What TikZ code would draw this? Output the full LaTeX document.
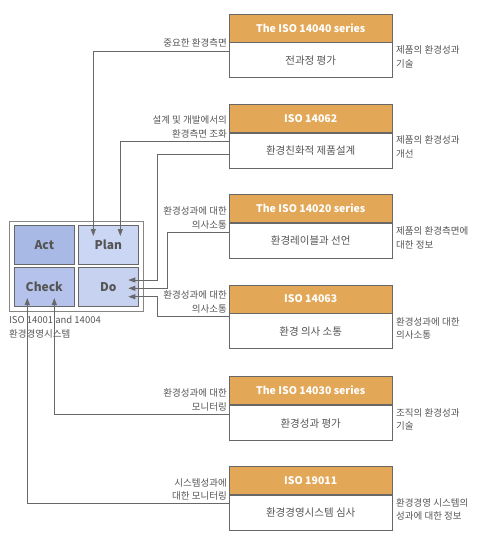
\documentclass[tikz,border=0pt]{standalone}
\usepackage{fontspec}
\setmainfont{Noto Sans CJK KR}
\usetikzlibrary{arrows.meta}
\definecolor{hdr}{HTML}{E3A758}
\definecolor{bord}{HTML}{686868}
\definecolor{txt}{HTML}{555555}
\definecolor{actc}{HTML}{A9B9E6}
\definecolor{planc}{HTML}{CBD6F4}
\definecolor{checkc}{HTML}{B5C3EC}
\definecolor{doc}{HTML}{C7D2F1}
\tikzset{
  hbox/.style={draw=bord, line width=0.9pt, fill=hdr, text=white, font=\fontsize{10.5}{12}\selectfont\bfseries, minimum width=163pt, minimum height=28pt, inner sep=0pt},
  bbox/.style={draw=bord, line width=0.9pt, fill=white, text=txt, font=\fontsize{10.5}{12}\selectfont, minimum width=163pt, minimum height=35pt, inner sep=0pt},
  llab/.style={text=txt, font=\fontsize{9.5}{13.5}\selectfont, align=right, anchor=east, inner sep=0pt},
  rlab/.style={text=txt, font=\fontsize{9.5}{13.5}\selectfont, align=left, anchor=west, inner sep=0pt},
  pd/.style={draw=bord, line width=0.9pt, text=txt, font=\fontsize{12}{14}\selectfont\bfseries, minimum height=38.3pt, inner sep=0pt},
  conn/.style={draw=bord, line width=0.9pt, -{Triangle[length=7pt,width=5pt]}},
}
\begin{document}
\begin{tikzpicture}[x=1pt,y=-1pt]
\useasboundingbox (0,0) rectangle (488,541);
% ISO boxes
\node[hbox] (h1) at (310.7,28) {The ISO 14040 series};
\node[bbox, anchor=north] (b1) at (h1.south) {전과정 평가};
\node[hbox] (h2) at (310.7,118.3) {ISO 14062};
\node[bbox, anchor=north] (b2) at (h2.south) {환경친화적 제품설계};
\node[hbox] (h3) at (310.7,208.3) {The ISO 14020 series};
\node[bbox, anchor=north] (b3) at (h3.south) {환경레이블과 선언};
\node[hbox] (h4) at (310.7,299) {ISO 14063};
\node[bbox, anchor=north] (b4) at (h4.south) {환경 의사 소통};
\node[hbox] (h5) at (310.7,390.7) {The ISO 14030 series};
\node[bbox, anchor=north] (b5) at (h5.south) {환경성과 평가};
\node[hbox] (h6) at (310.7,480.3) {ISO 19011};
\node[bbox, anchor=north] (b6) at (h6.south) {환경경영시스템 심사};
% left labels
\node[llab] (l1) at (227,43) {중요한 환경측면};
\node[llab] (l2) at (227,127) {설계 및 개발에서의\\환경측면 조화};
\node[llab] (l3) at (227,218) {환경성과에 대한\\의사소통};
\node[llab] (l4) at (227,301.7) {환경성과에 대한\\의사소통};
\node[llab] (l5) at (227,400) {환경성과에 대한\\모니터링};
\node[llab] (l6) at (227,489.2) {시스템성과에\\대한 모니터링};
% right labels
\node[rlab] (r1) at (396,57) {제품의 환경성과\\기술};
\node[rlab] (r2) at (396,147) {제품의 환경성과\\개선};
\node[rlab] (r3) at (396,238) {제품의 환경측면에\\대한 정보};
\node[rlab] (r4) at (396,328.3) {환경성과에 대한\\의사소통};
\node[rlab] (r5) at (396,419.3) {조직의 환경성과\\기술};
\node[rlab] (r6) at (396,509.3) {환경경영 시스템의\\성과에 대한 정보};
% PDCA
\node[draw=bord!80, line width=0.9pt, fill=white, minimum width=134pt, minimum height=90pt, inner sep=0pt] (ems) at (76.3,266) {};
\node[pd, fill=actc, minimum width=60pt] (act) at (44.3,244.85) {Act};
\node[pd, fill=planc, minimum width=59.3pt] (plan) at (108.35,244.85) {Plan};
\node[pd, fill=checkc, minimum width=60pt] (check) at (44.3,286.85) {Check};
\node[pd, fill=doc, minimum width=59.3pt] (do) at (108.35,286.85) {Do};
\node[text=txt, font=\fontsize{9.5}{13.5}\selectfont, align=left, anchor=north west, inner sep=0pt] (emslab) at (9,316) {ISO 14001 and 14004\\환경경영시스템};
% arrow tip coordinates
\coordinate (p1) at (93.3,236);
\coordinate (p2) at (120.3,236);
\coordinate (d1) at (128.3,280);
\coordinate (d2) at (128.3,288.3);
\coordinate (d3) at (128.3,296.7);
\coordinate (c1) at (54.3,298);
\coordinate (c2) at (27.3,298);
% connectors
\draw[conn] (b1.west |- 0,51.7) -| (p1);
\draw[conn] (b2.west |- 0,141.3) -| (p2);
\draw[conn] (b2.west |- 0,154.3) -| (157.3,280) -- (d1);
\draw[conn] (b3.west |- 0,232.3) -| (167.7,288.3) -- (d2);
\draw[conn] (b4.west |- 0,316) -| (157.3,296.7) -- (d3);
\draw[conn] (b5.west |- 0,414) -| (c1);
\draw[conn] (b6.west |- 0,503.3) -| (c2);
\end{tikzpicture}
\end{document}
